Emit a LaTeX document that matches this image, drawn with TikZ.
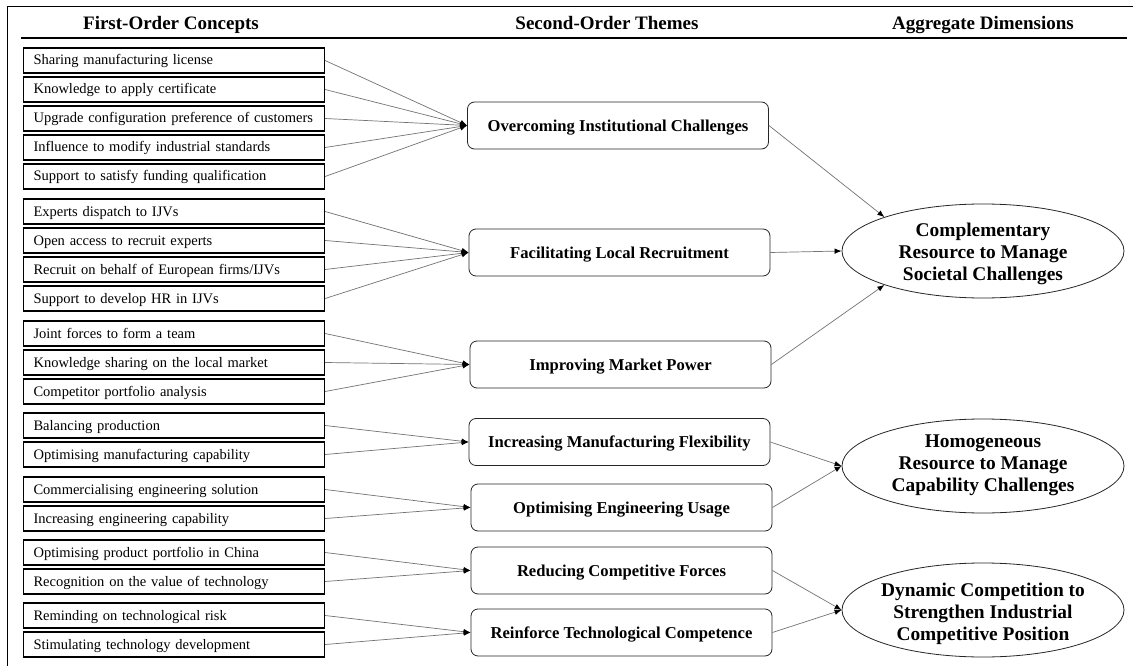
\documentclass[tikz,border=0pt]{standalone}
\usepackage{fontspec}
\setmainfont{Liberation Serif}
\usetikzlibrary{arrows.meta,shapes.geometric}
\begin{document}
\begin{tikzpicture}[x=1pt,y=-1pt,
 concept/.style={draw,line width=1.1pt,minimum height=25pt,text width=281pt,inner xsep=10pt,inner ysep=0pt,
   text height=11pt,text depth=2pt,align=left,font=\fontsize{14.5}{16}\selectfont,anchor=west},
 theme/.style={draw=black!85,line width=0.8pt,rounded corners=7pt,minimum width=301pt,minimum height=47pt,
   text height=11.5pt,text depth=0pt,font=\bfseries\fontsize{16.6}{19}\selectfont},
 dimension/.style={draw=black!85,line width=0.8pt,ellipse,minimum width=282pt,minimum height=94pt,inner sep=0pt},
 dimtext/.style={align=center,font=\bfseries\fontsize{19.4}{22}\selectfont,inner sep=0pt},
 header/.style={font=\bfseries\fontsize{19}{22}\selectfont,anchor=base,inner sep=0pt},
 link/.style={draw=black!55,line width=0.7pt,-{Latex[length=7pt,width=5.5pt,color=black]}},
]
\useasboundingbox (0,0) rectangle (1133,666);
\fill[white] (0,0) rectangle (1133,666);
% frame and header rule
\draw[line width=0.9pt] (7.5,666) -- (7.5,6.5) -- (1133,6.5);
\draw[line width=1.2pt] (21,38) -- (1127,38);
\node[header] (h1) at (171,30) {First-Order Concepts};
\node[header] (h2) at (607,30) {Second-Order Themes};
\node[header] (h3) at (983,30) {Aggregate Dimensions};
% first-order concepts
\node[concept] (c11) at (23,60.5) {Sharing manufacturing license};
\node[concept] (c12) at (23,89.5) {Knowledge to apply certificate};
\node[concept] (c13) at (23,118.5) {Upgrade configuration preference of customers};
\node[concept] (c14) at (23,147.5) {Influence to modify industrial standards};
\node[concept] (c15) at (23,176.5) {Support to satisfy funding qualification};
\node[concept] (c21) at (23,211.5) {Experts dispatch to IJVs};
\node[concept] (c22) at (23,240.5) {Open access to recruit experts};
\node[concept] (c23) at (23,269.5) {Recruit on behalf of European firms/IJVs};
\node[concept] (c24) at (23,298.5) {Support to develop HR in IJVs};
\node[concept] (c31) at (23,333.5) {Joint forces to form a team};
\node[concept] (c32) at (23,362.5) {Knowledge sharing on the local market};
\node[concept] (c33) at (23,391.5) {Competitor portfolio analysis};
\node[concept] (c41) at (23,425.5) {Balancing production};
\node[concept] (c42) at (23,454.5) {Optimising manufacturing capability};
\node[concept] (c51) at (23,489.5) {Commercialising engineering solution};
\node[concept] (c52) at (23,518.5) {Increasing engineering capability};
\node[concept] (c61) at (23,552.5) {Optimising product portfolio in China};
\node[concept] (c62) at (23,581.5) {Recognition on the value of technology};
\node[concept] (c71) at (23,615.5) {Reminding on technological risk};
\node[concept] (c72) at (23,644.5) {Stimulating technology development};
% second-order themes
\node[theme] (t1) at (618,125.5) {Overcoming Institutional Challenges};
\node[theme] (t2) at (619.5,252.5) {Facilitating Local Recruitment};
\node[theme] (t3) at (620.5,364.5) {Improving Market Power};
\node[theme] (t4) at (619.5,442) {Increasing Manufacturing Flexibility};
\node[theme] (t5) at (621.5,507.5) {Optimising Engineering Usage};
\node[theme] (t6) at (621.5,570.5) {Reducing Competitive Forces};
\node[theme] (t7) at (621.5,632.5) {Reinforce Technological Competence};
% aggregate dimensions
\node[dimension] (d1) at (983,251) {};
\node[dimtext] (d1t) at (983,254) {Complementary\\Resource to Manage\\Societal Challenges};
\node[dimension] (d2) at (983,466) {};
\node[dimtext] (d2t) at (983,465) {Homogeneous\\Resource to Manage\\Capability Challenges};
\node[dimension] (d3) at (983,610) {};
\node[dimtext] (d3t) at (983,614) {Dynamic Competition to\\Strengthen Industrial\\Competitive Position};
% links concepts -> themes
\foreach \c in {c11,c12,c13,c14,c15} \draw[link] (\c.east) -- (t1.west);
\foreach \c in {c21,c22,c23,c24} \draw[link] (\c.east) -- (t2.west);
\foreach \c in {c31,c32,c33} \draw[link] (\c.east) -- (t3.west);
\foreach \c in {c41,c42} \draw[link] (\c.east) -- (t4.west);
\foreach \c in {c51,c52} \draw[link] (\c.east) -- (t5.west);
\foreach \c in {c61,c62} \draw[link] (\c.east) -- (t6.west);
\foreach \c in {c71,c72} \draw[link] (\c.east) -- (t7.west);
% links themes -> dimensions
\draw[link] (t1.east) -- (d1.161);
\draw[link] (t2.east) -- (d1.west);
\draw[link] (t3.east) -- (d1.199);
\draw[link] (t4.east) -- (d2.west);
\draw[link] (t5.east) -- (d2.west);
\draw[link] (t6.east) -- (d3.west);
\draw[link] (t7.east) -- (d3.west);
\end{tikzpicture}
\end{document}
